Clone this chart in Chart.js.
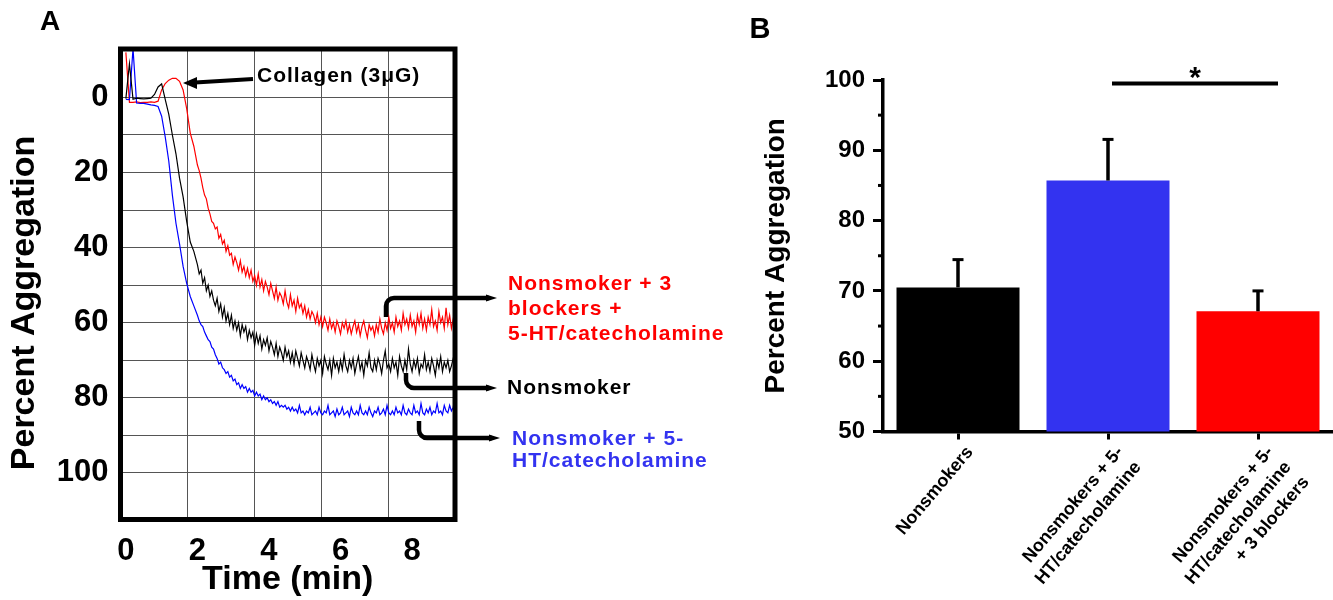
<!DOCTYPE html>
<html>
<head>
<meta charset="utf-8">
<script src="https://cdn.jsdelivr.net/npm/chart.js@4.4.1/dist/chart.umd.min.js"></script>
<style>
  html, body { margin: 0; padding: 0; background: #fff; }
  #wrap { position: relative; width: 1333px; height: 600px; overflow: hidden; }
  #chartA { position: absolute; left: 0; top: 0; }
  #chartB { position: absolute; left: 740px; top: 0; }
</style>
</head>
<body>
<div id="wrap">
  <canvas id="chartA" width="760" height="600"></canvas>
  <canvas id="chartB" width="593" height="600"></canvas>
</div>
<script>
// ---- panel A: aggregation traces (percent aggregation vs time, min) ----
// 0.1 min steps up to 1.9, then 0.05 min steps (noisy plateau)
const times = [
  0.0, 0.1, 0.2, 0.3, 0.4, 0.5, 0.6, 0.7, 0.8, 0.9,
  1.0, 1.1, 1.2, 1.3, 1.4, 1.5, 1.6, 1.7, 1.8, 1.9,
  2.0, 2.05, 2.1, 2.15, 2.2, 2.25, 2.3, 2.35, 2.4, 2.45,
  2.5, 2.55, 2.6, 2.65, 2.7, 2.75, 2.8, 2.85, 2.9, 2.95,
  3.0, 3.05, 3.1, 3.15, 3.2, 3.25, 3.3, 3.35, 3.4, 3.45,
  3.5, 3.55, 3.6, 3.65, 3.7, 3.75, 3.8, 3.85, 3.9, 3.95,
  4.0, 4.05, 4.1, 4.15, 4.2, 4.25, 4.3, 4.35, 4.4, 4.45,
  4.5, 4.55, 4.6, 4.65, 4.7, 4.75, 4.8, 4.85, 4.9, 4.95,
  5.0, 5.05, 5.1, 5.15, 5.2, 5.25, 5.3, 5.35, 5.4, 5.45,
  5.5, 5.55, 5.6, 5.65, 5.7, 5.75, 5.8, 5.85, 5.9, 5.95,
  6.0, 6.05, 6.1, 6.15, 6.2, 6.25, 6.3, 6.35, 6.4, 6.45,
  6.5, 6.55, 6.6, 6.65, 6.7, 6.75, 6.8, 6.85, 6.9, 6.95,
  7.0, 7.05, 7.1, 7.15, 7.2, 7.25, 7.3, 7.35, 7.4, 7.45,
  7.5, 7.55, 7.6, 7.65, 7.7, 7.75, 7.8, 7.85, 7.9, 7.95,
  8.0, 8.05, 8.1, 8.15, 8.2, 8.25, 8.3, 8.35, 8.4, 8.45,
  8.5, 8.55, 8.6, 8.65, 8.7, 8.75, 8.8, 8.85, 8.9, 8.95,
  9.0, 9.05, 9.1, 9.15, 9.2
]
const nonsmoker = [
  0.3, -9, 0.5, 0.2, 0.3, 0.4, 0.3, 0.2, -0.8, -2.8,
  -3.6, 0.5, 4.5, 10, 15, 21.5, 26.5, 33, 38.5, 41,
  44.5, 47, 46, 49.5, 48, 51.5, 50, 53, 51.5, 54,
  55.5, 53.5, 57, 55, 58.5, 56, 59.5, 57.5, 60.5, 58,
  61.5, 59.5, 62, 60, 63.5, 60.5, 62.5, 61, 64.5, 62,
  64, 62.5, 66, 63, 65.5, 63.5, 67, 64.5, 66, 64,
  67.5, 65, 66.5, 68.5, 65.5, 69, 66.5, 68, 70, 66.5,
  69, 67.5, 70.5, 68, 71, 67.5, 69.5, 71.5, 68, 70,
  72, 69, 70.5, 72.5, 68.5, 71, 73, 69.5, 71.5, 70,
  73.5, 69, 71, 72.5, 70, 74, 69.5, 72, 70.5, 73,
  70, 72.5, 68.5, 71.5, 73, 70, 72, 69.5, 73.5, 71,
  69, 72.5, 70.5, 74, 70, 71.5, 68, 72, 73, 70,
  72.5, 69.5, 71, 73.5, 70, 67.5, 72, 71, 73, 69.5,
  72, 70.5, 74, 69, 71.5, 73, 70, 72.5, 67, 71,
  73, 70, 72, 69.5, 73.5, 71, 72, 68.5, 72.5, 70.5,
  73, 69.5, 71.5, 74, 70, 72, 69, 73, 70.5, 72,
  70, 73, 71.5, 69.5, 71
]
const blockers = [
  -12, 1.3, 1.3, 1.2, 1.4, 1.3, 1.3, 1.2, 1.3, 1.0,
  -2, -3.7, -4.6, -5.1, -5.1, -4.3, -2, 3, 9.5, 13,
  18, 19.5, 21.5, 24, 26, 27, 29.5, 31, 33, 33.5,
  35, 34.5, 37.5, 36.5, 39, 38, 41, 39.5, 42, 41.5,
  44.5, 42.5, 44, 46, 43.5, 46.5, 45, 47.5, 45.5, 48,
  46, 49, 47.5, 50, 47, 50.5, 48.5, 51.5, 49, 50.5,
  52.5, 49.5, 51.5, 53.5, 50.5, 54, 52, 53, 55, 51.5,
  54.5, 56, 52.5, 55.5, 54, 57, 53.5, 56, 55, 57.5,
  55.5, 58.5, 56.5, 59, 57, 58, 60, 57.5, 60.5, 58.5,
  61, 58.5, 60, 62, 59, 61.5, 60, 62.5, 59.5, 61,
  63, 60, 61.5, 59.5, 62.5, 60.5, 63, 61, 59.5, 62.5,
  60.5, 63.5, 61, 59.5, 62, 64, 60.5, 62, 61, 63.5,
  60.5, 62.5, 59, 61.5, 63, 60, 62, 58.5, 61.5, 60,
  62.5, 58.5, 61, 59.5, 62, 57.5, 60.5, 59, 61.5, 58,
  61, 59.5, 62.5, 58, 60.5, 57.5, 61.5, 59, 62, 58.5,
  60.5, 56.5, 61, 59.5, 62, 57, 60, 58.5, 61.5, 56,
  60.5, 58, 61.5, 59, 60.5
]
const catechol = [
  0.5, 0.6, -13, 1.5, 1.6, 1.6, 1.8, 2.0, 2.1, 2.4,
  5, 10.5, 17, 26, 33.5, 39, 45, 49.5, 53, 55.5,
  58, 59.5, 60.5, 61, 62.5, 63.5, 64.5, 65, 66.5, 67,
  68.5, 69.5, 71, 70.5, 72, 72.5, 73.5, 73, 74.5, 74,
  75.5, 75, 76.5, 76, 77.5, 76.5, 77.5, 77, 78.5, 77.5,
  78.5, 78, 79.5, 78.5, 79.5, 79, 80.5, 79.5, 80.5, 80,
  81, 80.5, 81.5, 81, 82, 81, 82.5, 82, 82.5, 82,
  83, 82.5, 83.5, 82.5, 83.5, 83, 84, 82, 84, 83.5,
  84.5, 83.5, 84, 82.5, 84.5, 84, 83.5, 84.5, 82.5, 84,
  84.5, 83.5, 84, 82, 84.5, 84, 83.5, 85, 83, 84.5,
  84, 82.5, 84.5, 84, 83.5, 85, 82.5, 84, 84.5, 83.5,
  84.5, 82, 84, 84.5, 83.5, 84.5, 82.5, 84, 85, 83.5,
  84, 82.5, 84.5, 84, 83, 84.5, 82, 84, 84.5, 83.5,
  84.5, 82.5, 84, 83.5, 84.5, 82, 84, 84.5, 83, 84,
  84.5, 82, 84, 83.5, 84.5, 81.5, 84, 84.5, 83, 84,
  82.5, 84.5, 83.5, 84, 81.5, 84, 83.5, 84.5, 82, 83.5,
  84, 82, 83.5, 82.5, 80
]
const xTicksA = [0, 2, 4, 6, 8]
const yTicksA = [0, 20, 40, 60, 80, 100]
const yGridA = [0, 10, 20, 30, 40, 50, 60, 70, 80, 90, 100]
const xGridA = [0, 1, 2, 3, 4, 5]

const redText = ['Nonsmoker + 3', 'blockers +', '5-HT/catecholamine']
const blackText = ['Nonsmoker']
const blueText = ['Nonsmoker + 5-', 'HT/catecholamine']

// ---- panel B: mean percent aggregation with SEM ----
const groups = [
  ['Nonsmokers'],
  ['Nonsmokers + 5-', 'HT/catecholamine'],
  ['Nonsmokers + 5-', 'HT/catecholamine', '+ 3 blockers']
]
const means = [70.5, 85.7, 67.1]
const sems = [3.95, 5.85, 2.9]
const barColors = ['#000000', '#3333f0', '#ff0000']
const minorTicksB = [55, 65, 75, 85, 95]

const FONT = '"Liberation Sans", Arial, sans-serif'
Chart.defaults.font.family = FONT
Chart.defaults.color = '#000'

function trace(values, color) {
    return {
        data: times.map((t, i) => ({ x: t, y: values[i] })),
        borderColor: color,
        borderWidth: 1.2,
        pointRadius: 0,
        tension: 0,
        xAxisID: 'x',
        yAxisID: 'y'
    }
}

function bracket(ctx, x, y0, yH, xEnd) {
    const r = 8
    ctx.beginPath()
    ctx.moveTo(x, y0)
    ctx.arcTo(x, yH, x + r, yH, r)
    ctx.lineTo(xEnd - 8, yH)
    ctx.stroke()
    ctx.beginPath()
    ctx.moveTo(xEnd, yH)
    ctx.lineTo(xEnd - 11, yH - 3.5)
    ctx.lineTo(xEnd - 11, yH + 3.5)
    ctx.closePath()
    ctx.fill()
}

function textLines(ctx, lines, x, y, step, color) {
    ctx.fillStyle = color
    lines.forEach((s, i) => ctx.fillText(s, x, y + i * step))
}

const annotA = {
    id: 'annotA',
    afterDraw(chart) {
        const { ctx, chartArea: a } = chart
        ctx.save()
        ctx.strokeStyle = '#000'
        ctx.fillStyle = '#000'
        ctx.lineWidth = 5
        ctx.strokeRect(a.left, a.top, a.right - a.left, a.bottom - a.top)

        ctx.textAlign = 'center'
        ctx.textBaseline = 'middle'
        ctx.font = 'bold 28px ' + FONT
        ctx.fillText('A', 50, 22)

        ctx.save()
        ctx.translate(25, 303)
        ctx.rotate(-Math.PI / 2)
        ctx.font = 'bold 34px ' + FONT
        ctx.fillText('Percent Aggregation', 0, 0)
        ctx.restore()

        // collagen arrow
        ctx.lineWidth = 4
        ctx.beginPath()
        ctx.moveTo(253, 79)
        ctx.lineTo(195, 82.5)
        ctx.stroke()
        ctx.beginPath()
        ctx.moveTo(183, 83)
        ctx.lineTo(197, 77)
        ctx.lineTo(197, 89)
        ctx.closePath()
        ctx.fill()

        // brackets
        ctx.lineWidth = 4.5
        bracket(ctx, 386, 317, 298, 497)
        bracket(ctx, 406, 373, 388, 497)
        bracket(ctx, 419, 421, 438, 500)

        ctx.textAlign = 'left'
        ctx.textBaseline = 'alphabetic'
        ctx.font = 'bold 21px ' + FONT
        ctx.letterSpacing = '1px'
        ctx.fillStyle = '#000'
        ctx.fillText('Collagen (3\u03bcG)', 257, 82)
        textLines(ctx, redText, 508, 290, 25, '#ff0000')
        textLines(ctx, blackText, 507, 394, 23, '#000000')
        textLines(ctx, blueText, 512, 445, 22, '#3333f0')
        ctx.restore()
    }
}

new Chart(document.getElementById('chartA'), {
    type: 'line',
    data: {
        datasets: [
            trace(nonsmoker, '#000000'),
            trace(catechol, '#0000ff'),
            trace(blockers, '#ff0000')
        ]
    },
    options: {
        responsive: false,
        animation: false,
        devicePixelRatio: 1,
        layout: { padding: { top: 49, right: 305, left: 0, bottom: 0 } },
        scales: {
            x: {
                type: 'linear',
                position: 'bottom',
                min: -0.15,
                max: 9.2,
                afterBuildTicks: s => { s.ticks = xTicksA.map(v => ({ value: v })) },
                afterFit: s => { s.height = 80.5 },
                grid: { display: false },
                border: { display: false },
                ticks: { font: { size: 31, weight: 'bold' }, padding: 5 },
                title: {
                    display: true,
                    text: 'Time (min)',
                    font: { size: 34, weight: 'bold' },
                    padding: { top: 0, bottom: 0 }
                }
            },
            xg: {
                type: 'linear',
                position: 'bottom',
                min: 0,
                max: 5,
                afterBuildTicks: s => { s.ticks = xGridA.map(v => ({ value: v })) },
                afterFit: s => { s.height = 0 },
                ticks: { display: false },
                grid: { color: '#555', lineWidth: 1, drawTicks: false },
                border: { display: false }
            },
            y: {
                type: 'linear',
                reverse: true,
                min: -12.9,
                max: 112.4,
                afterBuildTicks: s => { s.ticks = yGridA.map(v => ({ value: v })) },
                afterFit: s => { s.width = 120.5 },
                grid: { color: '#555', lineWidth: 1, drawTicks: false },
                border: { display: false },
                ticks: {
                    font: { size: 31, weight: 'bold' },
                    padding: 12,
                    callback: v => yTicksA.includes(v) ? v : ''
                }
            }
        },
        plugins: { legend: { display: false }, tooltip: { enabled: false } }
    },
    plugins: [annotA]
})

const annotB = {
    id: 'annotB',
    afterDatasetsDraw(chart) {
        const { ctx } = chart
        const y = chart.scales.y
        const bars = chart.getDatasetMeta(0).data
        ctx.save()
        ctx.strokeStyle = '#000'
        ctx.fillStyle = '#000'
        bars.forEach((bar, i) => {
            const yTop = y.getPixelForValue(means[i])
            const yCap = y.getPixelForValue(means[i] + sems[i])
            ctx.lineWidth = 3.5
            ctx.beginPath()
            ctx.moveTo(bar.x, yTop)
            ctx.lineTo(bar.x, yCap)
            ctx.stroke()
            ctx.lineWidth = 3
            ctx.beginPath()
            ctx.moveTo(bar.x - 5.5, yCap)
            ctx.lineTo(bar.x + 5.5, yCap)
            ctx.stroke()
        })

        const ax = chart.chartArea.left
        ctx.lineWidth = 3
        minorTicksB.forEach(v => {
            const p = y.getPixelForValue(v)
            ctx.beginPath()
            ctx.moveTo(ax - 5, p)
            ctx.lineTo(ax, p)
            ctx.stroke()
        })

        // significance bar between groups 2 and 3
        const sy = y.getPixelForValue(99.5)
        ctx.lineWidth = 4
        ctx.beginPath()
        ctx.moveTo(bars[1].x + 4, sy)
        ctx.lineTo(bars[2].x + 20, sy)
        ctx.stroke()
        ctx.textAlign = 'center'
        ctx.textBaseline = 'alphabetic'
        ctx.font = 'bold 30px ' + FONT
        ctx.fillText('*', (bars[1].x + bars[2].x) / 2 + 12, sy + 3)

        ctx.textBaseline = 'middle'
        ctx.font = 'bold 29px ' + FONT
        ctx.fillText('B', 20, 30)
        ctx.restore()
    }
}

new Chart(document.getElementById('chartB'), {
    type: 'bar',
    data: {
        labels: groups,
        datasets: [{
            data: means,
            backgroundColor: barColors,
            borderWidth: 0,
            barPercentage: 0.82,
            categoryPercentage: 1.0
        }]
    },
    options: {
        responsive: false,
        animation: false,
        devicePixelRatio: 1,
        layout: { padding: { top: 80, right: 0, left: 0, bottom: 0 } },
        scales: {
            x: {
                afterFit: s => { s.height = 168.5 },
                grid: { drawOnChartArea: false, offset: false, tickLength: 8, tickWidth: 3, tickColor: '#000' },
                border: { color: '#000', width: 3.5 },
                ticks: {
                    autoSkip: false,
                    minRotation: 50,
                    maxRotation: 50,
                    padding: 2,
                    labelOffset: 12,
                    font: { size: 18, weight: 'bold', lineHeight: 1.3 }
                }
            },
            y: {
                min: 50,
                max: 100,
                afterFit: s => { s.width = 143 },
                grid: { drawOnChartArea: false, tickLength: 10, tickWidth: 3, tickColor: '#000' },
                border: { color: '#000', width: 3.5 },
                ticks: { stepSize: 10, padding: 8, font: { size: 24, weight: 'bold' } },
                title: {
                    display: true,
                    text: 'Percent Aggregation',
                    font: { size: 28, weight: 'bold' },
                    padding: { top: 19, bottom: 0 }
                }
            }
        },
        plugins: { legend: { display: false }, tooltip: { enabled: false } }
    },
    plugins: [annotB]
})
</script>
</body>
</html>
